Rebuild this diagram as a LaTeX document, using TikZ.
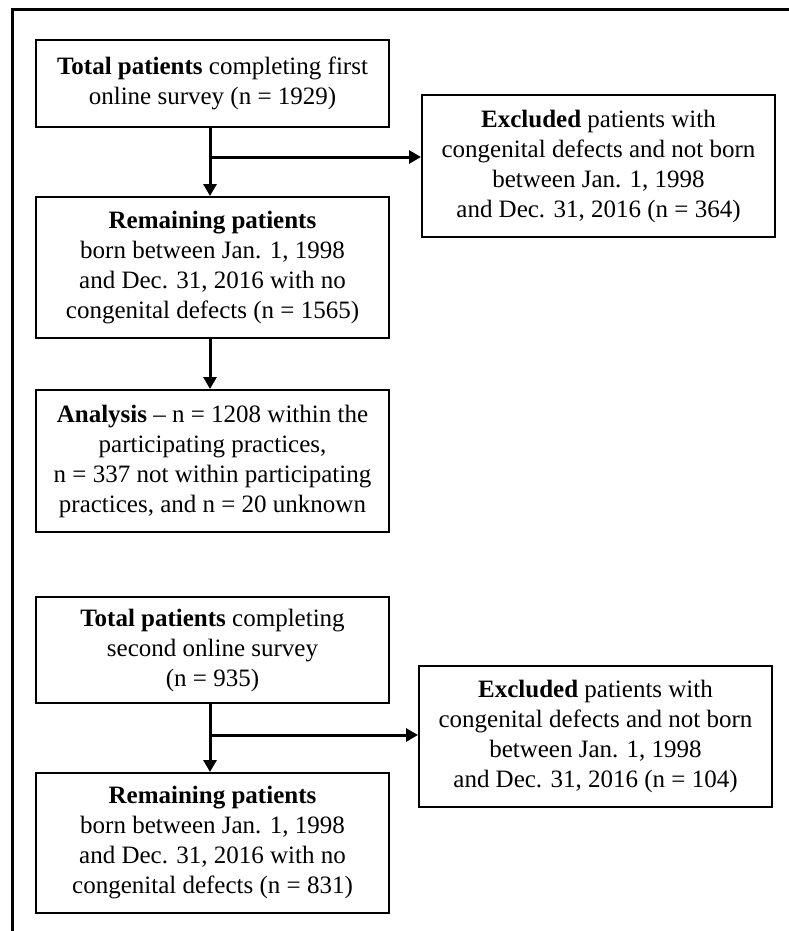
\documentclass[tikz,border=0pt]{standalone}
\usepackage{fontspec}
\setmainfont{Liberation Serif}
\usetikzlibrary{arrows.meta}
\begin{document}
\begin{tikzpicture}[x=0.5pt,y=-0.5pt,
  box/.style={draw, line width=1pt, minimum width=176.5pt, align=center, inner sep=0pt,
    font=\fontsize{12.5}{15}\selectfont},
  arr/.style={line width=1.5pt, -{Triangle[length=6pt,width=6.5pt]}}]
\useasboundingbox (0,0) rectangle (788,931);
\draw[line width=1.5pt] (790,10) -- (12,10) -- (12,933);

\node[box, minimum height=43.5pt] (b1) at (212.5,83.5)
  {\textbf{Total patients} completing first\\online survey (n = 1929)};
\node[box, minimum height=71pt] (e1) at (598.5,166)
  {\textbf{Excluded} patients with\\congenital defects and not born\\between Jan. 1, 1998\\and Dec. 31, 2016 (n = 364)};
\node[box, minimum height=70.5pt] (r1) at (212.5,267.5)
  {\textbf{Remaining patients}\\born between Jan. 1, 1998\\and Dec. 31, 2016 with no\\congenital defects (n = 1565)};
\node[box, minimum height=71pt] (a1) at (212.5,461)
  {\textbf{Analysis} -- n = 1208 within the\\participating practices,\\n = 337 not within participating\\practices, and n = 20 unknown};
\node[box, minimum height=53pt] (b2) at (212.5,650)
  {\textbf{Total patients} completing\\second online survey\\(n = 935)};
\node[box, minimum height=70.5pt] (e2) at (595.5,736.5)
  {\textbf{Excluded} patients with\\congenital defects and not born\\between Jan. 1, 1998\\and Dec. 31, 2016 (n = 104)};
\node[box, minimum height=70pt] (r2) at (212.5,843)
  {\textbf{Remaining patients}\\born between Jan. 1, 1998\\and Dec. 31, 2016 with no\\congenital defects (n = 831)};

\coordinate (vx) at (210,0);
\coordinate (j1) at (210,157);
\coordinate (j2) at (210,735);

\draw[arr] (b1.south -| vx) -- (r1.north -| vx);
\draw[arr] (j1) -- (j1 -| e1.west);
\draw[arr] (r1.south -| vx) -- (a1.north -| vx);
\draw[arr] (b2.south -| vx) -- (r2.north -| vx);
\draw[arr] (j2) -- (j2 -| e2.west);
\end{tikzpicture}
\end{document}
